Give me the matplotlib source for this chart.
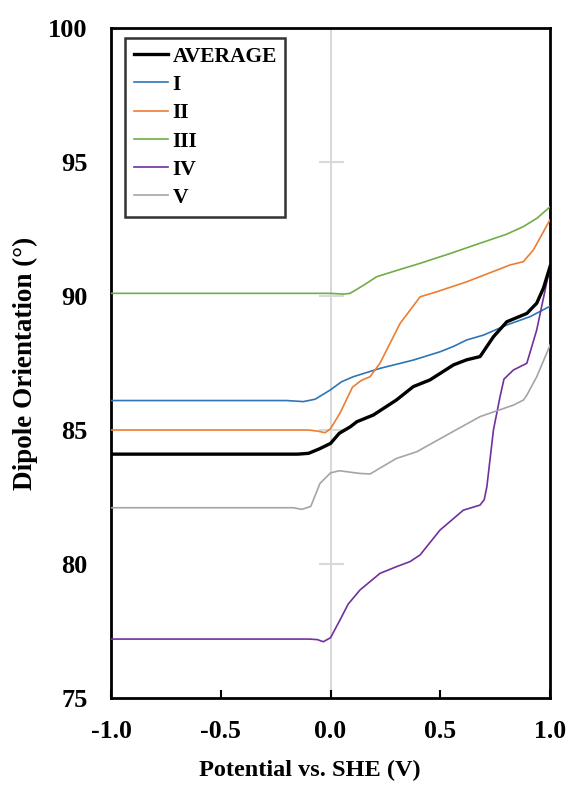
import matplotlib

matplotlib.use("Agg")
import matplotlib.pyplot as plt

# potential (V) and dipole orientation (deg)
avg_x = [-1.0, -0.15, -0.10, -0.05, 0.0, 0.04, 0.09, 0.12, 0.195, 0.30, 0.377, 0.453,
         0.56, 0.62, 0.681, 0.742, 0.803, 0.85, 0.894, 0.939, 0.97, 1.0]
avg_y = [84.10, 84.10, 84.13, 84.30, 84.50, 84.88, 85.12, 85.31, 85.56, 86.12, 86.62, 86.87,
         87.43, 87.62, 87.74, 88.48, 89.04, 89.20, 89.35, 89.73, 90.30, 91.10]

i_x = [-1.0, -0.2, -0.124, -0.07, -0.002, 0.05, 0.104, 0.225, 0.377, 0.499, 0.56, 0.62,
       0.696, 0.803, 0.909, 1.0]
i_y = [86.10, 86.10, 86.06, 86.15, 86.49, 86.80, 86.99, 87.30, 87.61, 87.92, 88.12, 88.36,
       88.54, 88.92, 89.23, 89.62]

ii_x = [-1.0, -0.1, -0.06, -0.025, 0.0, 0.043, 0.10, 0.14, 0.18, 0.225, 0.317, 0.408,
        0.484, 0.62, 0.818, 0.878, 0.924, 1.0]
ii_y = [85.00, 85.00, 84.96, 84.90, 85.05, 85.63, 86.60, 86.85, 86.99, 87.49, 88.98, 89.97,
        90.16, 90.53, 91.16, 91.28, 91.72, 92.85]

iii_x = [-1.0, 0.0, 0.06, 0.089, 0.15, 0.21, 0.30, 0.408, 0.55, 0.681, 0.80, 0.878, 0.94, 1.0]
iii_y = [90.10, 90.10, 90.07, 90.10, 90.40, 90.72, 90.95, 91.22, 91.60, 91.97, 92.30, 92.59,
         92.90, 93.33]

iv_x = [-1.0, -0.1, -0.06, -0.033, 0.0, 0.043, 0.08, 0.134, 0.225, 0.30, 0.362, 0.408,
        0.499, 0.605, 0.681, 0.70, 0.712, 0.742, 0.772, 0.79, 0.833, 0.894, 0.939, 1.0]
iv_y = [77.20, 77.20, 77.18, 77.10, 77.25, 77.91, 78.50, 79.03, 79.65, 79.90, 80.09, 80.34,
        81.27, 82.01, 82.20, 82.40, 82.88, 85.00, 86.24, 86.90, 87.24, 87.49, 88.73, 91.10]

v_x = [-1.0, -0.17, -0.131, -0.09, -0.048, 0.0, 0.04, 0.134, 0.18, 0.30, 0.393, 0.544,
       0.681, 0.833, 0.879, 0.894, 0.94, 1.0]
v_y = [82.10, 82.10, 82.04, 82.15, 83.01, 83.40, 83.48, 83.38, 83.36, 83.94, 84.19, 84.88,
       85.50, 85.93, 86.12, 86.30, 87.00, 88.17]

x_ticks = [-1.0, -0.5, 0.0, 0.5, 1.0]
y_ticks = [75, 80, 85, 90, 95, 100]

plt.rcParams["font.family"] = ["Liberation Serif", "DejaVu Serif"]
plt.rcParams["font.weight"] = "bold"

fig = plt.figure(figsize=(5.73, 7.85), dpi=100)
ax = fig.add_axes([0.1937, 0.1108, 0.7663, 0.8535])

# Excel-style vertical axis at x = 0, light gray with crossing ticks
ax.axvline(0, color="#d9d9d9", lw=1.5, zorder=1)
ax.plot([0] * len(y_ticks[1:-1]), y_ticks[1:-1], ls="none", marker="_",
        ms=18, mew=1.5, color="#d9d9d9", zorder=1)

ax.plot(avg_x, avg_y, color="black", lw=2.4, label="AVERAGE", zorder=4)
ax.plot(i_x, i_y, color="#2e75b6", lw=1.2, label="I", zorder=3)
ax.plot(ii_x, ii_y, color="#ed7d31", lw=1.2, label="II", zorder=3)
ax.plot(iii_x, iii_y, color="#70ad47", lw=1.2, label="III", zorder=3)
ax.plot(iv_x, iv_y, color="#7030a0", lw=1.2, label="IV", zorder=3)
ax.plot(v_x, v_y, color="#a5a5a5", lw=1.2, label="V", zorder=3)

ax.set_xlim(-1, 1)
ax.set_ylim(75, 100)
ax.set_xticks(x_ticks)
ax.set_xticklabels([f"{t:.1f}" for t in x_ticks])
ax.set_yticks(y_ticks)
ax.tick_params(axis="x", direction="in", length=6, width=1.5, pad=16, labelsize=18.5)
ax.tick_params(axis="y", length=0, pad=17, labelsize=19)
for side in ax.spines.values():
    side.set_linewidth(2)

ax.set_xlabel("Potential vs. SHE (V)", fontsize=17.5, fontweight="bold")
ax.xaxis.set_label_coords(0.453, -0.092)
ax.set_ylabel("Dipole Orientation (°)", fontsize=19.5, fontweight="bold")
ax.yaxis.set_label_coords(-0.166, 0.5)

leg = ax.legend(loc="upper left", bbox_to_anchor=(0.032, 0.985), fontsize=15.5,
                frameon=True, fancybox=False, edgecolor="black", borderaxespad=0,
                handlelength=1.6, handletextpad=0.2, labelspacing=0.38,
                borderpad=0.4)
leg.get_frame().set_linewidth(1.8)
for text in leg.get_texts():
    text.set_fontweight("bold")

fig.savefig("out.png", dpi=100)
